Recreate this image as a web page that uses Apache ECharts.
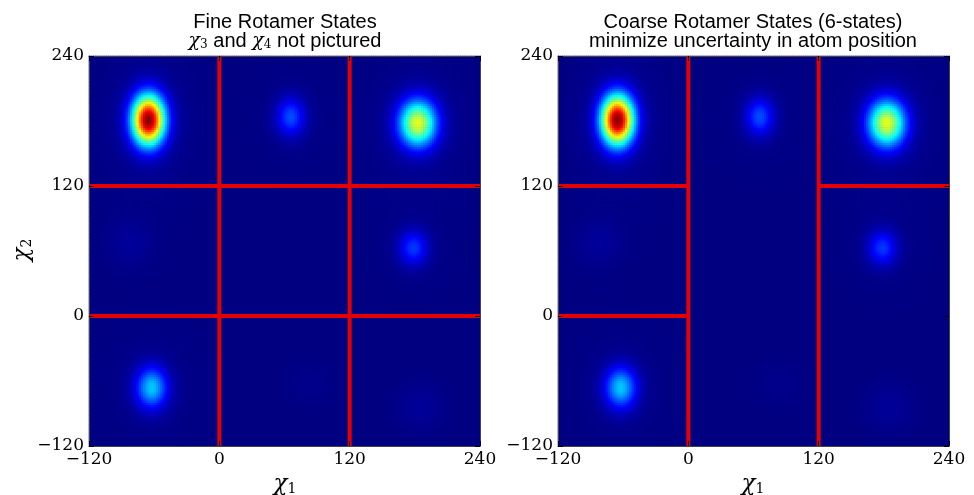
<!DOCTYPE html>
<html>
<head>
<meta charset="utf-8">
<script src="https://cdn.jsdelivr.net/npm/echarts@6/dist/echarts.min.js"></script>
<style>html,body{margin:0;padding:0;background:#fff}#c{width:974px;height:495px}</style>
</head>
<body>
<div id="c"></div>
<script>
// ---- data ----
const chiMin = -120, chiMax = 240, cellSize = 2;
const tickValues = [-120, 0, 120, 240];
// density peaks (rotamer wells): chi1, chi2 centres, peak height (0..1), spreads
const peakChi1 = [-65, 66, 183, 179, -62, -82, 185, 84];
const peakChi2 = [181, 184, 178, 63, -66, 67, -84, -62];
const peakHeight = [0.97, 0.19, 0.58, 0.17, 0.31, 0.025, 0.025, 0.012];
const peakSd1 = [10.5, 9, 12, 9, 10, 16, 16, 16];
const peakSd2 = [16, 12, 15, 11, 13, 16, 16, 16];
const haloHeight = [0.025, 0.01, 0.02, 0.01, 0.015, 0, 0, 0];
// partition lines [x1, y1, x2, y2]
const fineSegments = [[0, -120, 0, 240], [120, -120, 120, 240], [-120, 120, 240, 120], [-120, 0, 240, 0]];
const coarseSegments = [[0, -120, 0, 240], [120, -120, 120, 240], [-120, 120, 0, 120], [120, 120, 240, 120], [-120, 0, 0, 0]];
const titlesLeft = ['Fine Rotamer States'];
const titlesRight = ['Coarse Rotamer States (6-states)', 'minimize uncertainty in atom position'];
const jet = ['#000080', '#0000ff', '#0080ff', '#00ffff', '#80ff80', '#ffff00', '#ff8000', '#ff0000', '#800000'];

// ---- build density grid ----
const cellCentres = [];
for (let v = chiMin + cellSize / 2; v < chiMax; v += cellSize) cellCentres.push(v);
function density(x, y) {
  let s = 0;
  for (let k = 0; k < peakChi1.length; k++) {
    const dx = x - peakChi1[k], dy = y - peakChi2[k];
    s += peakHeight[k] * Math.exp(-0.5 * (dx * dx / (peakSd1[k] * peakSd1[k]) + dy * dy / (peakSd2[k] * peakSd2[k])));
    if (haloHeight[k] > 0) {
      const a = 3 * peakSd1[k], b = 3 * peakSd2[k];
      s += haloHeight[k] * Math.exp(-0.5 * (dx * dx / (a * a) + dy * dy / (b * b)));
    }
  }
  return s;
}
const heat = [];
for (let i = 0; i < cellCentres.length; i++)
  for (let j = 0; j < cellCentres.length; j++)
    heat.push([i, j, density(cellCentres[i], cellCentres[j])]);

const panels = [{ left: 89 }, { left: 558 }];
const gridTop = 56, gridW = 391, gridH = 390;
const fmt = v => (v < 0 ? '\u2212' + Math.abs(v) : String(v));

const grid = [], xAxis = [], yAxis = [], series = [];
panels.forEach((p, pi) => {
  grid.push({ left: p.left, top: gridTop, width: gridW, height: gridH, show: true, backgroundColor: '#000080', borderWidth: 0 });
  grid.push({ left: p.left, top: gridTop, width: gridW, height: gridH, show: false });
  const gH = pi * 2, gV = pi * 2 + 1;
  const base = xAxis.length;
  xAxis.push({ type: 'category', gridIndex: gH, data: cellCentres, show: false });
  yAxis.push({ type: 'category', gridIndex: gH, data: cellCentres, show: false });
  const valAx = (pos, labels) => ({
    type: 'value', gridIndex: gV, min: chiMin, max: chiMax, interval: 120, position: pos, z: 10,
    axisLine: { show: true, onZero: false, lineStyle: { color: '#444', width: 1 } },
    axisTick: { show: true, inside: true, length: 5, lineStyle: { color: '#000' } },
    axisLabel: { show: labels, formatter: fmt, fontFamily: 'DejaVu Serif', fontSize: 17, color: '#000', margin: 5 },
    splitLine: { show: false }
  });
  xAxis.push(valAx('bottom', true));
  xAxis.push(valAx('top', false));
  yAxis.push(valAx('left', true));
  yAxis.push(valAx('right', false));
  series.push({
    type: 'heatmap', xAxisIndex: base, yAxisIndex: base, data: heat, progressive: 0,
    silent: true, animation: false, z: 2
  });
  const segs = pi === 0 ? fineSegments : coarseSegments;
  segs.forEach(s => {
    series.push({
      type: 'line', xAxisIndex: base + 1, yAxisIndex: base + 1, data: [[s[0], s[1]], [s[2], s[3]]],
      symbol: 'none', silent: true, animation: false, z: 5, clip: false,
      lineStyle: { color: '#e60000', width: 4, cap: 'butt' }
    });
  });
});

const chi = (sub, size, subSize, x, y, rot) => ({
  type: 'text', x: x, y: y, rotation: rot || 0, z: 20,
  style: {
    text: '{m|χ}{s|' + sub + '}', align: 'center', verticalAlign: 'middle',
    rich: {
      m: { fontFamily: 'DejaVu Serif', fontStyle: 'italic', fontSize: size, fill: '#000' },
      s: { fontFamily: 'DejaVu Serif', fontSize: subSize, fill: '#000', padding: [Math.round(size * 0.45), 0, 0, 0] }
    }
  }
});
const titleFont = { fontFamily: 'Liberation Sans', fontSize: 20, fill: '#000' };
const graphic = [
  { type: 'text', x: 285, y: 22, style: Object.assign({ text: titlesLeft[0], align: 'center', verticalAlign: 'middle' }, titleFont) },
  {
    type: 'text', x: 285, y: 41,
    style: {
      text: '{m|χ}{s|3}{t| and }{m|χ}{s|4}{t| not pictured}', align: 'center', verticalAlign: 'middle',
      rich: {
        m: { fontFamily: 'DejaVu Serif', fontStyle: 'italic', fontSize: 19, fill: '#000' },
        s: { fontFamily: 'DejaVu Serif', fontSize: 12, fill: '#000', padding: [8, 0, 0, 0] },
        t: titleFont
      }
    }
  },
  { type: 'text', x: 753, y: 22, style: Object.assign({ text: titlesRight[0], align: 'center', verticalAlign: 'middle' }, titleFont) },
  { type: 'text', x: 753, y: 41, style: Object.assign({ text: titlesRight[1], align: 'center', verticalAlign: 'middle' }, titleFont) },
  chi('1', 23, 14, 285, 484),
  chi('1', 23, 14, 753, 484),
  chi('2', 23, 14, 22, 250, Math.PI / 2)
];

const chart = echarts.init(document.getElementById('c'), null, { renderer: 'canvas' });
chart.setOption({
  animation: false,
  grid, xAxis, yAxis, series, graphic,
  visualMap: { type: 'continuous', show: false, min: 0, max: 1, seriesIndex: [0, 1 + fineSegments.length], inRange: { color: jet } }
});
</script>
</body>
</html>
